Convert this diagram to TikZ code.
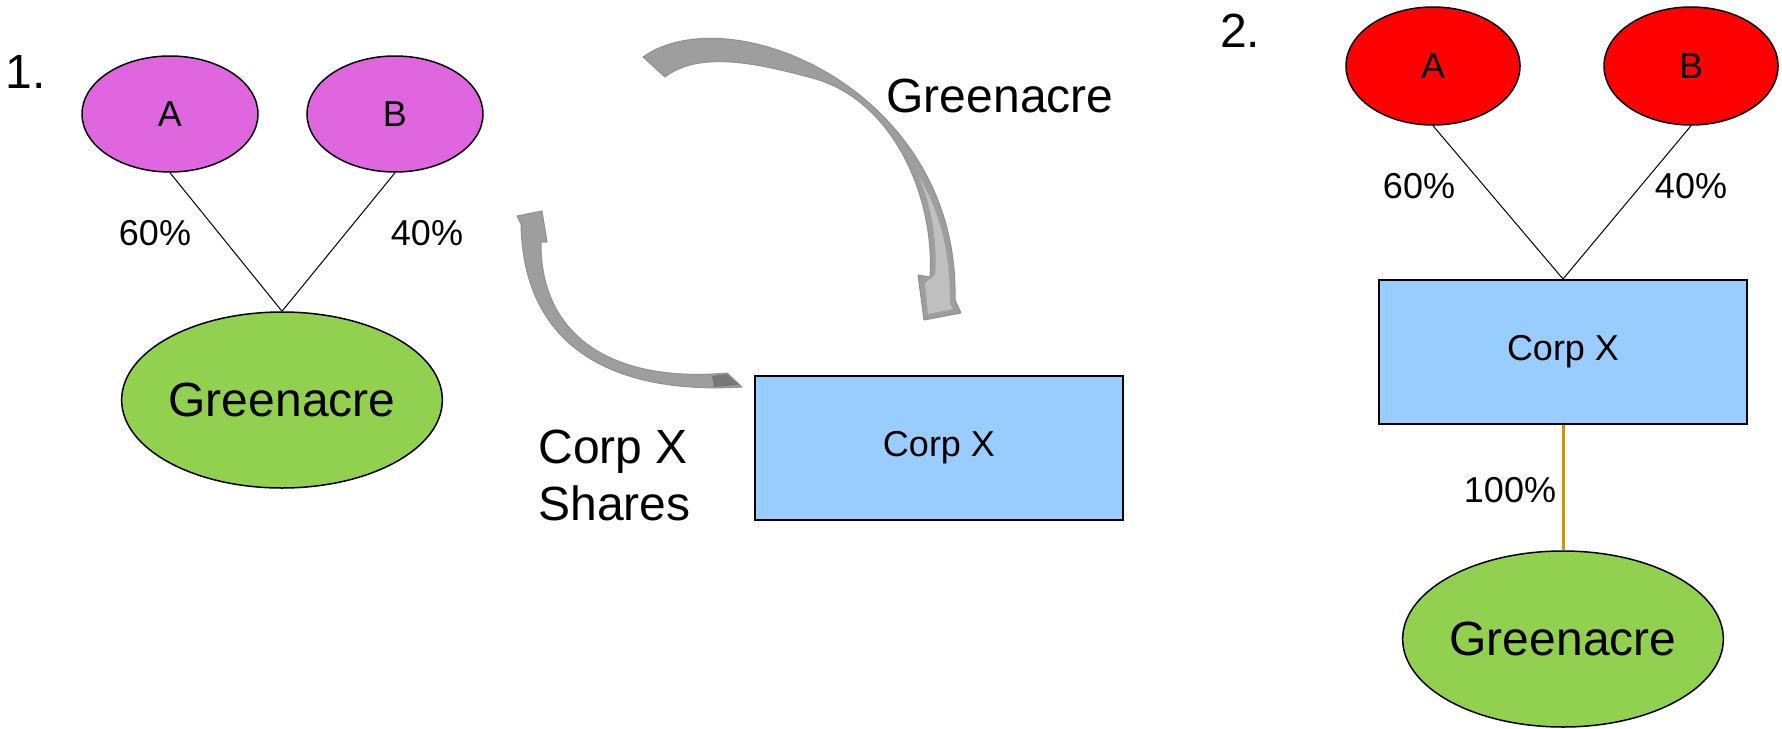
\documentclass[tikz,border=0pt]{standalone}
\usepackage{fontspec}
\setmainfont{Liberation Sans}
\usetikzlibrary{shapes.geometric}
\definecolor{orchid}{RGB}{224,102,224}
\definecolor{leaf}{RGB}{146,208,80}
\definecolor{sky}{RGB}{153,204,255}
\definecolor{ochre}{RGB}{204,153,0}
\definecolor{arrowgrey}{RGB}{158,158,158}
\definecolor{arrowlight}{RGB}{192,192,192}
\begin{document}
\begin{tikzpicture}[x=0.5pt,y=-0.5pt]
\tikzstyle{owner} = [shape=ellipse, draw=black, line width=0.75pt, minimum width=88pt, minimum height=58pt, inner sep=0, font=\fontsize{18}{21}\selectfont]
\tikzstyle{entity} = [shape=ellipse, draw=black, line width=0.75pt, fill=leaf, minimum width=152pt, minimum height=88pt, inner sep=0, font=\fontsize{24}{28}\selectfont]
\tikzstyle{corp} = [shape=rectangle, draw=black, line width=1pt, fill=sky, minimum width=184pt, minimum height=72pt, inner sep=0, font=\fontsize{18}{21}\selectfont]
\tikzstyle{share} = [inner sep=0, font=\fontsize{18}{21}\selectfont]
\tikzstyle{big} = [inner sep=0, font=\fontsize{24}{28.5}\selectfont]
\tikzstyle{link} = [draw, line width=0.5pt]
\tikzstyle{swirl} = [fill=arrowgrey, draw=arrowgrey!92!black, line width=0.5pt, line join=round]

\useasboundingbox (0,0) rectangle (1782,728);

% 1. before the exchange
\node [big] (n1) at (26,72) {1.};
\node [owner, fill=orchid] (a1) at (170,114) {A};
\node [owner, fill=orchid] (b1) at (395,114) {B};
\node [entity] (g1) at (282,400) {Greenacre};
\draw [link] (a1.south) -- (g1.north);
\draw [link] (b1.south) -- (g1.north);
\node [share] (p60a) at (155,233) {60\%};
\node [share] (p40a) at (427,233) {40\%};

% the swap
\node [corp] (x1) at (939,448) {Corp X};
\node [big] (lgreen) at (1000,96) {Greenacre};
\node [big, align=left, anchor=north west] (lshares) at (538,430) {Corp X\\Shares};
\filldraw [swirl] (643,57) .. controls (730,-5) and (960,90) .. (955,300)
	-- (961,313) -- (924,320) -- (918,275) -- (930,277)
	.. controls (935,200) and (895,100) .. (812,78)
	.. controls (760,64) and (700,50) .. (665,77) -- cycle;
\fill [arrowlight] (918,175) .. controls (940,212) and (950,250) .. (950,304)
	-- (953,309) -- (928,314) -- (925,283) -- (935,275)
	.. controls (938,240) and (930,200) .. (918,175) -- cycle;
\filldraw [swirl] (517,216) -- (542,211) -- (547,242) -- (541,242)
	.. controls (540,338) and (615,383) .. (727,373)
	-- (742,387)
	.. controls (610,395) and (523,345) .. (521,224) -- cycle;
\fill [arrowgrey!75!black] (712,376) -- (727,374) -- (739,385) -- (714,387) -- cycle;

% 2. after the exchange
\node [big] (n2) at (1240,31) {2.};
\node [owner, fill=red, minimum width=87pt, minimum height=59pt] (a2) at (1433,66) {A};
\node [owner, fill=red, minimum width=87pt, minimum height=59pt] (b2) at (1691,66) {B};
\node [corp] (x2) at (1563,352) {Corp X};
\node [entity] (g2) at (1563,639) {Greenacre};
\draw [link] (a2.south) -- (x2.north);
\draw [link] (b2.south) -- (x2.north);
\draw [draw=ochre, line width=1.5pt] (x2.south) -- (g2.north);
\node [share] (p60b) at (1419,186) {60\%};
\node [share] (p40b) at (1691,186) {40\%};
\node [share] (p100) at (1510,490) {100\%};
\end{tikzpicture}
\end{document}
